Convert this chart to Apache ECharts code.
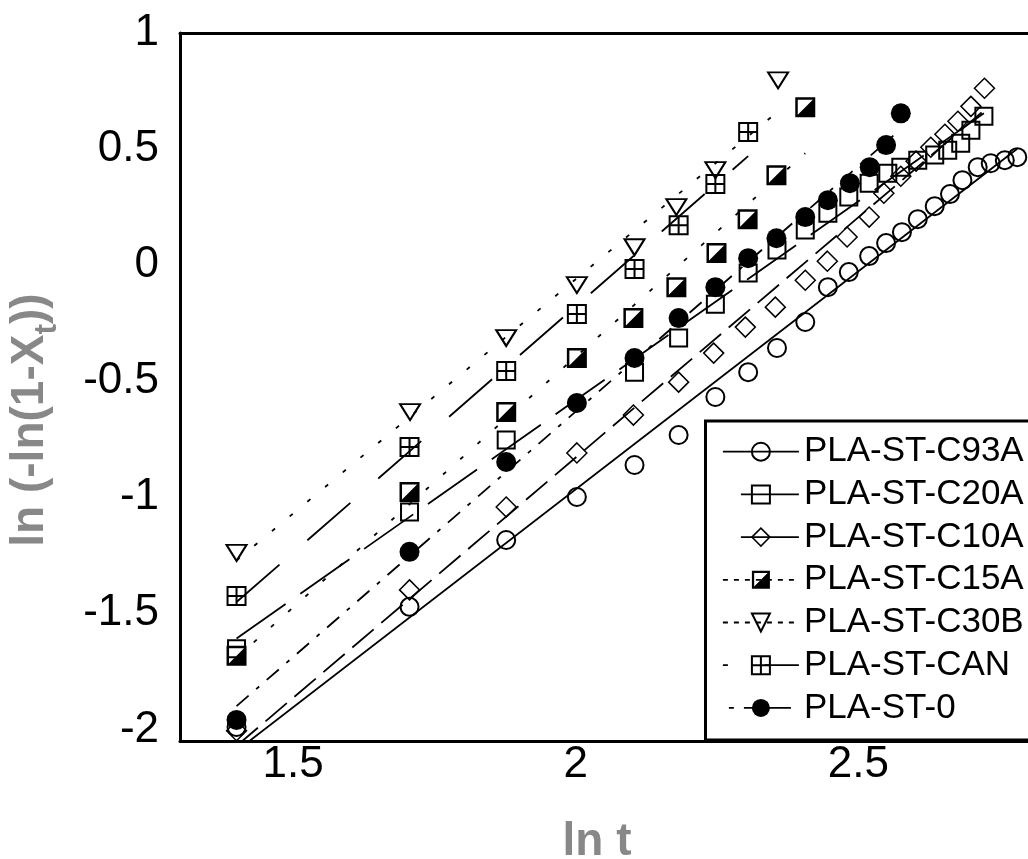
<!DOCTYPE html>
<html>
<head>
<meta charset="utf-8">
<script src="https://cdn.jsdelivr.net/npm/echarts@6/dist/echarts.min.js"></script>
<style>
  html, body { margin: 0; padding: 0; background: #fff; }
  #chart { width: 1028px; height: 859px; }
</style>
</head>
<body>
<div id="chart"></div>
<script>
// Avrami plot: ln t against ln(-ln(1-Xt)) for each blend
const c93aX = [1.40, 1.706, 1.877, 2.002, 2.104, 2.182, 2.247, 2.305, 2.356, 2.406, 2.446, 2.483, 2.519, 2.549, 2.577, 2.605, 2.635, 2.662, 2.684, 2.711, 2.734, 2.759, 2.781];
const c93aY = [-1.99, -1.472, -1.184, -0.999, -0.861, -0.732, -0.568, -0.461, -0.357, -0.245, -0.095, -0.030, 0.039, 0.095, 0.142, 0.198, 0.254, 0.306, 0.366, 0.422, 0.439, 0.452, 0.465];

const c20aX = [1.40, 1.706, 1.877, 2.104, 2.182, 2.247, 2.305, 2.356, 2.406, 2.446, 2.483, 2.519, 2.552, 2.575, 2.605, 2.635, 2.658, 2.681, 2.699, 2.722];
const c20aY = [-1.653, -1.063, -0.753, -0.461, -0.314, -0.168, -0.034, 0.065, 0.151, 0.224, 0.293, 0.353, 0.396, 0.422, 0.452, 0.474, 0.495, 0.525, 0.581, 0.641];

const c10aX = [1.40, 1.706, 1.877, 2.002, 2.102, 2.182, 2.244, 2.300, 2.353, 2.406, 2.445, 2.480, 2.519, 2.545, 2.575, 2.602, 2.628, 2.653, 2.676, 2.699, 2.723];
const c10aY = [-2.006, -1.399, -1.042, -0.809, -0.646, -0.504, -0.379, -0.267, -0.181, -0.065, 0.017, 0.121, 0.207, 0.310, 0.383, 0.448, 0.508, 0.564, 0.620, 0.684, 0.762];

const c15aX = [1.40, 1.706, 1.877, 2.002, 2.102, 2.178, 2.249, 2.304, 2.355, 2.406];
const c15aY = [-1.683, -0.977, -0.633, -0.400, -0.228, -0.095, 0.052, 0.198, 0.387, 0.680];

const c30bX = [1.40, 1.707, 1.877, 2.002, 2.104, 2.178, 2.247, 2.358];
const c30bY = [-1.240, -0.633, -0.314, -0.086, 0.077, 0.250, 0.409, 0.796];

const canX = [1.40, 1.706, 1.877, 2.002, 2.104, 2.182, 2.247, 2.305];
const canY = [-1.425, -0.783, -0.456, -0.211, -0.017, 0.172, 0.349, 0.573];

const neatX = [1.40, 1.706, 1.877, 2.002, 2.104, 2.182, 2.247, 2.305, 2.355, 2.406, 2.446, 2.485, 2.520, 2.549, 2.575];
const neatY = [-1.959, -1.235, -0.848, -0.594, -0.400, -0.228, -0.095, 0.030, 0.116, 0.207, 0.280, 0.353, 0.422, 0.517, 0.654];

const xTicks = [1.5, 2, 2.5];
const yTicks = [-2, -1.5, -1, -0.5, 0, 0.5, 1];

const seriesNames = ['PLA-ST-C93A', 'PLA-ST-C20A', 'PLA-ST-C10A', 'PLA-ST-C15A', 'PLA-ST-C30B', 'PLA-ST-CAN', 'PLA-ST-0'];
const seriesX = [c93aX, c20aX, c10aX, c15aX, c30bX, canX, neatX];
const seriesY = [c93aY, c20aY, c10aY, c15aY, c30bY, canY, neatY];

// marker and line appearance per series
const HALF_SQUARE = 'path://M0,0L20,0L20,20L0,20Z M2.5,2.5L2.5,17.5L17.5,17.5L17.5,2.5Z M17.5,2.5L17.5,17.5L2.5,17.5Z';
const CROSS_SQUARE = 'path://M0,0L20,0L20,20L0,20Z M10,0L10,20 M0,10L20,10';
const looks = [
  { symbol: 'circle', size: 18, fill: 'transparent', border: 2, plotDash: 'solid', legendDash: 'solid', legendOffset: 0 },
  { symbol: 'rect', size: 17, fill: 'transparent', border: 2, plotDash: [60, 18], legendDash: [58, 18], legendOffset: 58 },
  { symbol: 'diamond', size: 20, fill: 'transparent', border: 1.5, plotDash: [28, 10], legendDash: [58, 18], legendOffset: 58 },
  { symbol: HALF_SQUARE, size: 20, fill: '#000', border: 0, plotDash: [4, 19], legendDash: [5, 6], legendOffset: 0 },
  { symbol: 'triangle', size: [20, 16], rotate: 180, fill: 'transparent', border: 2, plotDash: [4, 19], legendDash: [5, 6], legendOffset: 0 },
  { symbol: CROSS_SQUARE, size: 18, fill: 'transparent', border: 2, plotDash: [57, 37], legendDash: [57, 37], legendOffset: 52 },
  { symbol: 'circle', size: 20, fill: '#000', border: 0, plotDash: [16, 10, 4, 10], legendDash: [5, 10, 47, 14], legendOffset: 70 }
];

// least-squares straight line over the series' own x range
function fitLine(xs, ys) {
  const n = xs.length;
  const mx = xs.reduce((a, b) => a + b, 0) / n;
  const my = ys.reduce((a, b) => a + b, 0) / n;
  let sxy = 0, sxx = 0;
  for (let i = 0; i < n; i++) {
    sxy += (xs[i] - mx) * (ys[i] - my);
    sxx += (xs[i] - mx) * (xs[i] - mx);
  }
  const k = sxy / sxx, b = my - k * mx;
  const x0 = Math.min(...xs), x1 = Math.max(...xs);
  return [[x0, k * x0 + b], [x1, k * x1 + b]];
}

const FONT = 'Liberation Sans, Arial, sans-serif';

const fitSeries = seriesNames.map((name, i) => ({
  type: 'line',
  name: name + ' fit',
  data: fitLine(seriesX[i], seriesY[i]),
  showSymbol: false,
  symbol: 'none',
  silent: true,
  clip: true,
  z: 2,
  lineStyle: { color: '#000', width: 1.8, type: looks[i].plotDash }
}));

const pointSeries = seriesNames.map((name, i) => ({
  type: 'line',
  name: name,
  data: seriesX[i].map((x, j) => [x, seriesY[i][j]]),
  symbol: looks[i].symbol,
  symbolSize: looks[i].size,
  symbolRotate: looks[i].rotate || 0,
  showSymbol: true,
  showAllSymbol: true,
  clip: true,
  silent: true,
  z: 3 + i,
  lineStyle: { opacity: 0, width: 0 },
  itemStyle: { color: looks[i].fill, borderColor: '#000', borderWidth: looks[i].border, opacity: 1 }
}));

const legendData = seriesNames.map((name, i) => ({
  name: name,
  lineStyle: { color: '#000', width: 1.8, type: looks[i].legendDash, dashOffset: looks[i].legendOffset, opacity: 1 },
  itemStyle: { color: looks[i].fill, borderColor: '#000', borderWidth: looks[i].border, opacity: 1 }
}));

const chart = echarts.init(document.getElementById('chart'), null, { renderer: 'canvas' });

chart.setOption({
  animation: false,
  backgroundColor: '#fff',
  grid: { left: 180, top: 33, width: 850.5, height: 708, containLabel: false },
  xAxis: [
    {
      type: 'value', min: 1.3, max: 2.8, position: 'bottom',
      axisLine: { show: true, onZero: false, lineStyle: { color: '#000', width: 3 } },
      axisTick: { show: false },
      splitLine: { show: false },
      axisLabel: {
        customValues: xTicks, margin: 2, color: '#000',
        fontFamily: FONT, fontSize: 44,
        formatter: v => String(v)
      }
    },
    {
      type: 'value', min: 1.3, max: 2.8, position: 'top',
      axisLine: { show: true, onZero: false, lineStyle: { color: '#000', width: 3 } },
      axisTick: { show: false }, axisLabel: { show: false }, splitLine: { show: false }
    }
  ],
  yAxis: {
    type: 'value', min: -2.05, max: 1,
    axisLine: { show: true, onZero: false, lineStyle: { color: '#000', width: 3 } },
    axisTick: { show: false },
    splitLine: { show: false },
    axisLabel: {
      customValues: yTicks, margin: 21, color: '#000',
      fontFamily: FONT, fontSize: 44,
      formatter: v => String(v)
    }
  },
  legend: {
    orient: 'vertical',
    left: 705.5, top: 421,
    padding: [12.7, 40, 14, 16.5],
    itemGap: 6.7, itemWidth: 76, itemHeight: 22.5,
    backgroundColor: '#fff', borderColor: '#000', borderWidth: 3, borderRadius: 0,
    selectedMode: false,
    textStyle: { fontFamily: FONT, fontSize: 35, color: '#000', lineHeight: 36 },
    data: legendData
  },
  graphic: [
    {
      type: 'text', left: null, x: 597, y: 842, silent: true,
      style: { text: 'ln t', fill: '#888', font: 'bold 46px ' + FONT, align: 'center', verticalAlign: 'middle' }
    },
    {
      type: 'text', x: 47, y: 420, rotation: Math.PI / 2, silent: true,
      style: {
        text: '{a|ln (-ln(1-X}{b|t}{a|))}',
        align: 'center', verticalAlign: 'middle',
        rich: {
          a: { fill: '#888', fontFamily: FONT, fontWeight: 'bold', fontSize: 46, lineHeight: 50, verticalAlign: 'top' },
          b: { fill: '#888', fontFamily: FONT, fontWeight: 'bold', fontSize: 32, lineHeight: 80 }
        }
      }
    }
  ],
  series: fitSeries.concat(pointSeries)
});
</script>
</body>
</html>
